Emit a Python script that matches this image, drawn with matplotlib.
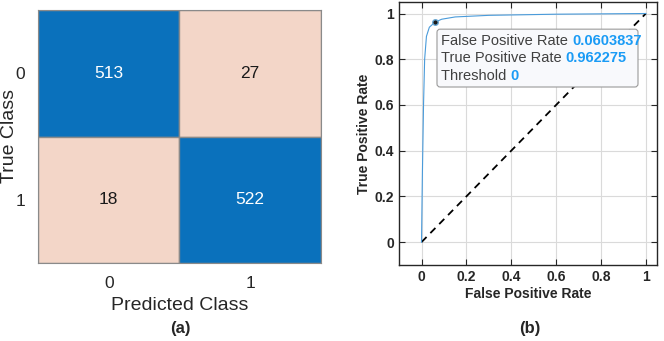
import numpy as np
import matplotlib
matplotlib.use("Agg")
import matplotlib.pyplot as plt
from matplotlib.patches import FancyBboxPatch

plt.rcParams['font.family'] = ['Liberation Sans', 'DejaVu Sans']

# confusion matrix
classes = ['0', '1']
cm = [[513, 27],
      [18, 522]]

# ROC curve
fpr = [0, 0.004, 0.009, 0.014, 0.022, 0.035, 0.0603837, 0.09, 0.15, 0.3, 0.6, 1.0]
tpr = [0, 0.3, 0.6, 0.8, 0.9, 0.94, 0.962275, 0.975, 0.985, 0.992, 0.997, 1.0]
tip_fpr = 0.0603837
tip_tpr = 0.962275
tip_thr = 0

blue = '#0A71BC'
pink = '#F3D6C8'
dark = '#262626'

fig = plt.figure(figsize=(6.64, 3.41), dpi=100)

# ---- (a) confusion chart
ax1 = fig.add_axes([0.0572, 0.2287, 0.4262, 0.742])
for i in range(2):
    for j in range(2):
        c = blue if i == j else pink
        ax1.add_patch(plt.Rectangle((j - 0.5, i - 0.5), 1, 1, facecolor=c,
                                    edgecolor='#8A8A8A', lw=1))
        tc = 'white' if i == j else '#1a1a1a'
        ax1.text(j, i, str(cm[i][j]), ha='center', va='center', fontsize=12.5, color=tc)
ax1.set_xlim(-0.5, 1.5)
ax1.set_ylim(1.5, -0.5)
ax1.set_xticks([0, 1])
ax1.set_yticks([0, 1])
ax1.set_xticklabels(classes, fontsize=12.5, color=dark)
ax1.set_yticklabels(classes, fontsize=12.5, color=dark)
ax1.tick_params(length=0, pad=9)
for s in ax1.spines.values():
    s.set_color('#8A8A8A')
ax1.set_xlabel('Predicted Class', fontsize=14, color=dark, labelpad=5)
fig.text(10 / 664, 1 - 136 / 341, 'True Class', rotation=90, ha='center', va='center',
         fontsize=14, color=dark)

# ---- (b) ROC curve
ax2 = fig.add_axes([0.601, 0.2229, 0.3886, 0.771])
ax2.plot([0, 1], [0, 1], '--', color='black', lw=1.3, dashes=(4, 3), zorder=2)
ax2.plot(fpr, tpr, color='#4A9BDA', lw=0.8, zorder=3)
ax2.plot(tip_fpr, tip_tpr, 'o', ms=4, mfc='#1a1a1a', mec='#6AA8D4', mew=1, zorder=5)
ax2.set_xlim(-0.1, 1.05)
ax2.set_ylim(-0.1, 1.05)
ticks = [0, 0.2, 0.4, 0.6, 0.8, 1]
labels = ['0', '0.2', '0.4', '0.6', '0.8', '1']
ax2.set_xticks(ticks)
ax2.set_yticks(ticks)
ax2.set_xticklabels(labels, fontsize=10, fontweight='bold', color=dark)
ax2.set_yticklabels(labels, fontsize=10, fontweight='bold', color=dark)
ax2.tick_params(direction='in', length=4, top=True, right=True, color=dark, width=0.8)
ax2.grid(True, color='#DADADA', lw=0.8)
ax2.set_axisbelow(True)
for s in ax2.spines.values():
    s.set_color(dark)
    s.set_linewidth(1)
ax2.set_xlabel('False Positive Rate', fontsize=10, fontweight='bold', color=dark, labelpad=2)
ax2.set_ylabel('True Positive Rate', fontsize=10, fontweight='bold', color=dark, labelpad=3)

# datatip box
box = FancyBboxPatch((0.147, 0.677), 0.779, 0.22, boxstyle='round,pad=0,rounding_size=0.012',
                     transform=ax2.transAxes, facecolor='#F8F9FC', edgecolor='#9A9A9A',
                     lw=0.8, zorder=6)
ax2.add_patch(box)
tip_rows = [('False Positive Rate', f'{tip_fpr:g}', 0.853),
            ('True Positive Rate', f'{tip_tpr:g}', 0.787),
            ('Threshold', f'{tip_thr:g}', 0.719)]
for lab, val, yy in tip_rows:
    t = ax2.text(0.163, yy, lab + ' ', transform=ax2.transAxes, fontsize=10.5,
                 color='#404040', va='center', zorder=7)
    ax2.annotate(val, xy=(1, 0), xycoords=t, va='bottom', ha='left', fontsize=10.5,
                 color='#1A9BF5', fontweight='bold', zorder=7)

fig.text(0.271, 0.038, '(a)', ha='center', va='center', fontsize=12, fontweight='bold', color=dark)
fig.text(0.798, 0.038, '(b)', ha='center', va='center', fontsize=12, fontweight='bold', color=dark)

fig.savefig('out.png', dpi=100)
